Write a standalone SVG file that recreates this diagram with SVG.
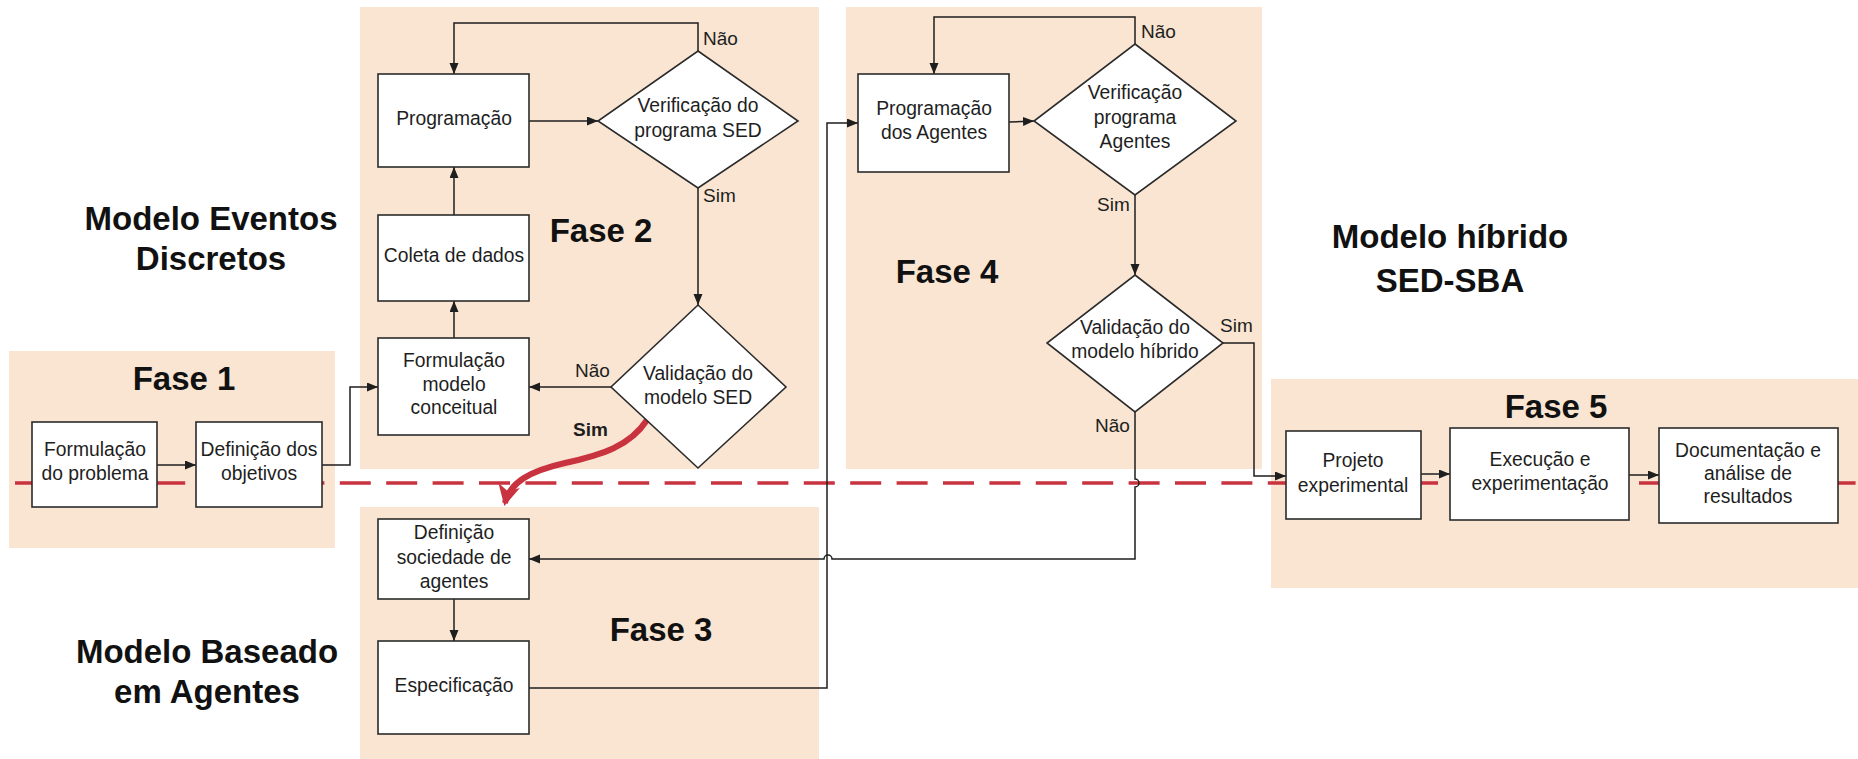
<svg xmlns="http://www.w3.org/2000/svg" width="1858" height="759" viewBox="0 0 1858 759">
  <style>
    .bg { fill: #f9e5d1; }
    .box { fill: #ffffff; stroke: #2b2b2b; stroke-width: 1.6; }
    text { font-family: "Liberation Sans", Arial, sans-serif; fill: #1e1e1e; }
    .t { font-size: 19.3px; text-anchor: middle; }
    .h { font-size: 33px; font-weight: bold; text-anchor: middle; fill: #111; }
    .lbl { font-size: 19px; }
    .lblb { font-size: 19px; font-weight: bold; }
    .conn path { fill: none; stroke: #1e1e1e; stroke-width: 1.5; }
    .divider { fill: none; stroke: #c9323f; stroke-width: 3.4; stroke-dasharray: 31 15.4; }
    .conn path.redarrow { fill: none; stroke: #c9323f; stroke-width: 6; }
  </style>
  <defs>
    <marker id="arr" markerUnits="userSpaceOnUse" markerWidth="12" markerHeight="10" refX="11" refY="4.5" orient="auto">
      <path d="M0,0 L11,4.5 L0,9 z" fill="#1e1e1e"/>
    </marker>
    <marker id="redhead" markerUnits="userSpaceOnUse" markerWidth="26" markerHeight="26" refX="18" refY="11" orient="auto">
      <path d="M0,0 L21,11 L0,22 L6,11 z" fill="#c9323f"/>
    </marker>
  </defs>

  <rect width="1858" height="759" fill="#ffffff"/>

  <!-- phase backgrounds -->
  <g id="phases">
    <rect class="bg" x="9" y="351" width="326" height="197"/>
    <rect class="bg" x="360" y="7" width="459" height="462"/>
    <rect class="bg" x="360" y="507" width="459" height="252"/>
    <rect class="bg" x="846" y="7" width="416" height="462"/>
    <rect class="bg" x="1271" y="379" width="587" height="209"/>
  </g>

  <!-- boundary between the two model families -->
  <path class="divider" d="M15,483 H1858"/>

  <!-- side titles -->
  <g id="titles">
    <text class="h" x="211" y="230">Modelo Eventos</text>
    <text class="h" x="211" y="270">Discretos</text>
    <text class="h" x="207" y="663">Modelo Baseado</text>
    <text class="h" x="207" y="703">em Agentes</text>
    <text class="h" x="1450" y="248">Modelo híbrido</text>
    <text class="h" x="1450" y="292">SED-SBA</text>
    <text class="h" x="184" y="390">Fase 1</text>
    <text class="h" x="601" y="242">Fase 2</text>
    <text class="h" x="661" y="641">Fase 3</text>
    <text class="h" x="947" y="283">Fase 4</text>
    <text class="h" x="1556" y="418">Fase 5</text>
  </g>

  <!-- connectors -->
  <g class="conn" id="connectors">
    <path d="M157,465 H196" marker-end="url(#arr)"/>
    <path d="M322,465 H350 V387 H378" marker-end="url(#arr)"/>
    <path d="M454,338 V301" marker-end="url(#arr)"/>
    <path d="M454,215 V167" marker-end="url(#arr)"/>
    <path d="M529,121 H598" marker-end="url(#arr)"/>
    <path d="M698,51 V23 H454 V74" marker-end="url(#arr)"/>
    <path d="M698,188 V305" marker-end="url(#arr)"/>
    <path d="M611,387 H529" marker-end="url(#arr)"/>
    <path d="M454,599 V641" marker-end="url(#arr)"/>
    <path d="M529,688 H827 V123 H858" marker-end="url(#arr)"/>
    <path d="M1009,122 L1034,121" marker-end="url(#arr)"/>
    <path d="M1135,44 V17 H934 V74" marker-end="url(#arr)"/>
    <path d="M1135,195 V275" marker-end="url(#arr)"/>
    <path d="M1223,343 H1254 V476 H1286" marker-end="url(#arr)"/>
    <path d="M1135,412 V479 A4,4 0 0 1 1135,487 V559 H832 A4,4 0 0 0 824,559 H529" marker-end="url(#arr)"/>
    <path d="M1421,474 H1450" marker-end="url(#arr)"/>
    <path d="M1629,475 H1659" marker-end="url(#arr)"/>
    <path class="redarrow" d="M647,420 C630,446 602,455 565,463 C530,471 510,482 505,503" marker-end="url(#redhead)"/>
  </g>

  <!-- connector labels -->
  <g id="labels">
    <text class="lbl" x="703" y="45">Não</text>
    <text class="lbl" x="703" y="202">Sim</text>
    <text class="lbl" x="575" y="377">Não</text>
    <text class="lblb" x="573" y="436">Sim</text>
    <text class="lbl" x="1141" y="38">Não</text>
    <text class="lbl" x="1097" y="211">Sim</text>
    <text class="lbl" x="1220" y="332">Sim</text>
    <text class="lbl" x="1095" y="432">Não</text>
  </g>

  <!-- Fase 1 -->
  <g id="formulacao-problema">
    <rect class="box" x="32" y="422" width="125" height="85"/>
    <text class="t" x="95" y="456">Formulação</text>
    <text class="t" x="95" y="480">do problema</text>
  </g>
  <g id="definicao-objetivos">
    <rect class="box" x="196" y="422" width="126" height="85"/>
    <text class="t" x="259" y="456">Definição dos</text>
    <text class="t" x="259" y="480">objetivos</text>
  </g>

  <!-- Fase 2 -->
  <g id="programacao">
    <rect class="box" x="378" y="74" width="151" height="93"/>
    <text class="t" x="454" y="125">Programação</text>
  </g>
  <g id="coleta-dados">
    <rect class="box" x="378" y="215" width="151" height="86"/>
    <text class="t" x="454" y="262">Coleta de dados</text>
  </g>
  <g id="formulacao-modelo">
    <rect class="box" x="378" y="338" width="151" height="97"/>
    <text class="t" x="454" y="367">Formulação</text>
    <text class="t" x="454" y="391">modelo</text>
    <text class="t" x="454" y="414">conceitual</text>
  </g>
  <g id="verificacao-sed">
    <path class="box" d="M698,51 L798,121 L698,188 L598,121 z"/>
    <text class="t" x="698" y="112">Verificação do</text>
    <text class="t" x="698" y="137">programa SED</text>
  </g>
  <g id="validacao-sed">
    <path class="box" d="M698,305 L786,387 L698,468 L611,387 z"/>
    <text class="t" x="698" y="380">Validação do</text>
    <text class="t" x="698" y="404">modelo SED</text>
  </g>

  <!-- Fase 3 -->
  <g id="definicao-sociedade">
    <rect class="box" x="378" y="519" width="151" height="80"/>
    <text class="t" x="454" y="539">Definição</text>
    <text class="t" x="454" y="564">sociedade de</text>
    <text class="t" x="454" y="588">agentes</text>
  </g>
  <g id="especificacao">
    <rect class="box" x="378" y="641" width="151" height="93"/>
    <text class="t" x="454" y="692">Especificação</text>
  </g>

  <!-- Fase 4 -->
  <g id="programacao-agentes">
    <rect class="box" x="858" y="74" width="151" height="98"/>
    <text class="t" x="934" y="115">Programação</text>
    <text class="t" x="934" y="139">dos Agentes</text>
  </g>
  <g id="verificacao-agentes">
    <path class="box" d="M1135,44 L1236,121 L1135,195 L1034,121 z"/>
    <text class="t" x="1135" y="99">Verificação</text>
    <text class="t" x="1135" y="124">programa</text>
    <text class="t" x="1135" y="148">Agentes</text>
  </g>
  <g id="validacao-hibrido">
    <path class="box" d="M1135,275 L1223,343 L1135,412 L1047,343 z"/>
    <text class="t" x="1135" y="334">Validação do</text>
    <text class="t" x="1135" y="358">modelo híbrido</text>
  </g>

  <!-- Fase 5 -->
  <g id="projeto-experimental">
    <rect class="box" x="1286" y="431" width="135" height="88"/>
    <text class="t" x="1353" y="467">Projeto</text>
    <text class="t" x="1353" y="492">experimental</text>
  </g>
  <g id="execucao">
    <rect class="box" x="1450" y="428" width="179" height="92"/>
    <text class="t" x="1540" y="466">Execução e</text>
    <text class="t" x="1540" y="490">experimentação</text>
  </g>
  <g id="documentacao">
    <rect class="box" x="1659" y="428" width="179" height="95"/>
    <text class="t" x="1748" y="457">Documentação e</text>
    <text class="t" x="1748" y="480">análise de</text>
    <text class="t" x="1748" y="503">resultados</text>
  </g>
</svg>
